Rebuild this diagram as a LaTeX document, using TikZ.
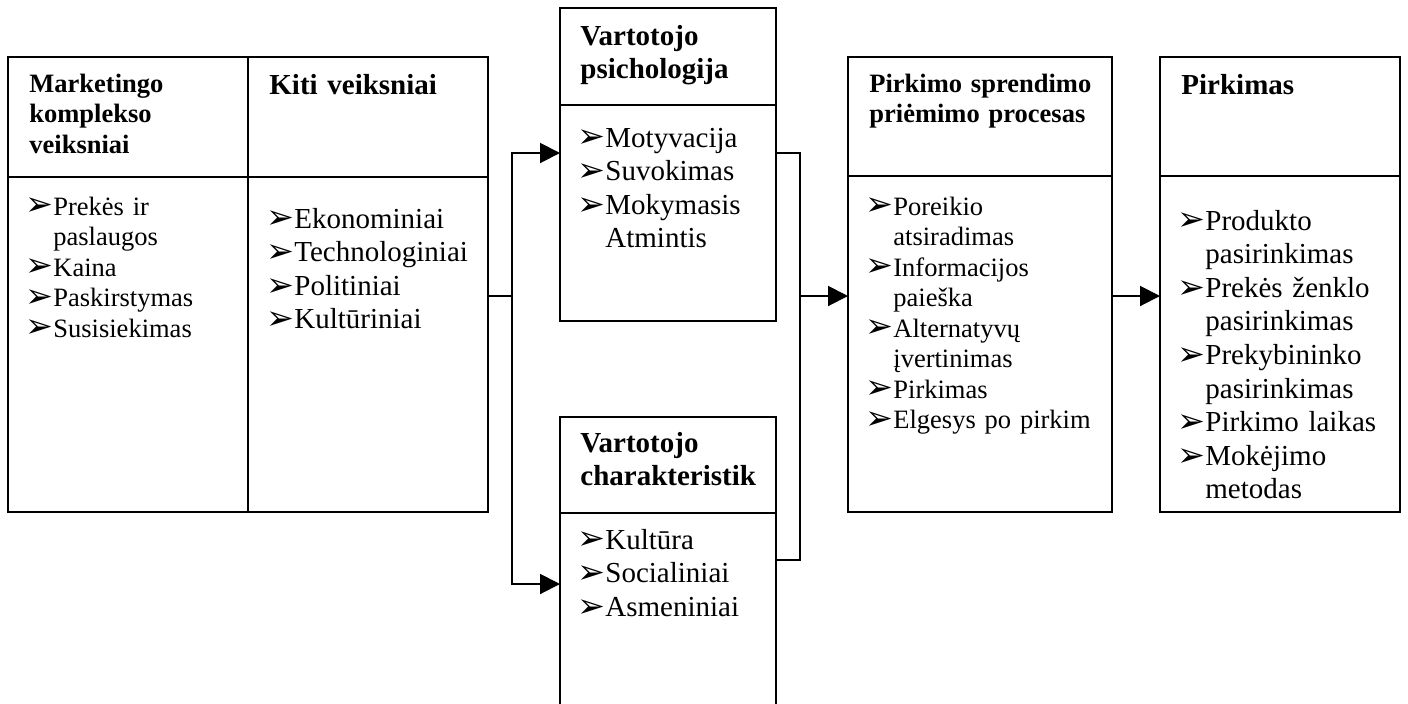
\documentclass[tikz,border=0pt]{standalone}
\usepackage{fontspec}
\setmainfont{Liberation Serif}
\newfontfamily\symfont{DejaVu Sans}
\usepackage{graphicx}
\usetikzlibrary{arrows.meta,positioning}

\newcommand{\bul}{\resizebox{14pt}{!}{\symfont ➢}}
\newcommand{\itm}{\makebox[11.5pt][l]{\kern-2.6pt\smash{\raisebox{-0.4pt}{\bul}}}}
\newcommand{\indt}{\hspace*{11.5pt}}

\begin{document}
\begin{tikzpicture}[
  x=0.5pt, y=-0.5pt,
  cell/.style={draw=black, line width=1pt, anchor=north west,
              inner sep=0pt, outer sep=0pt},
  hsmall/.style={anchor=base west, inner sep=0pt, text width=160pt, align=left,
              font=\fontsize{13.25}{15.25}\selectfont\bfseries},
  hlarge/.style={anchor=base west, inner sep=0pt, text width=160pt, align=left,
              font=\fontsize{14.5}{16.8}\selectfont\bfseries},
  bsmall/.style={anchor=base west, inner sep=0pt, text width=160pt, align=left,
              font=\fontsize{13.25}{15.25}\selectfont},
  blarge/.style={anchor=base west, inner sep=0pt, text width=160pt, align=left,
              font=\fontsize{14.5}{16.8}\selectfont},
  conn/.style={line width=1pt},
  arr/.style={-{Triangle[length=10pt,width=10pt]}, line width=1pt}
]
\clip (0,0) rectangle (1408,703);

%% factor boxes
\node[cell, minimum width=120pt, minimum height=60pt] (mkh) at (8,57) {};
\node[cell, minimum width=120pt, minimum height=167.5pt, below=0pt of mkh] (mkb) {};
\node[cell, minimum width=120pt, minimum height=60pt, right=0pt of mkh] (kitih) {};
\node[cell, minimum width=120pt, minimum height=167.5pt, below=0pt of kitih] (kitib) {};

%% consumer boxes
\node[cell, minimum width=108pt, minimum height=48.5pt] (psyh) at (560,8) {};
\node[cell, minimum width=108pt, minimum height=108pt, below=0pt of psyh] (psyb) {};
\node[cell, minimum width=108pt, minimum height=48pt] (charh) at (560,417) {};
\node[cell, minimum width=108pt, minimum height=115pt, below=0pt of charh] (charb) {};

%% decision and purchase boxes
\node[cell, minimum width=132pt, minimum height=59.5pt] (sprh) at (848,57) {};
\node[cell, minimum width=132pt, minimum height=168pt, below=0pt of sprh] (sprb) {};
\node[cell, minimum width=120pt, minimum height=59.5pt] (pirh) at (1160,57) {};
\node[cell, minimum width=120pt, minimum height=168pt, below=0pt of pirh] (pirb) {};

%% headers
\node[hsmall] (mkt) at (29,92) {Marketingo\\komplekso\\veiksniai};
\node[hlarge] (kitit) at (269,94) {Kiti veiksniai};
\node[hlarge] (psyt) at (580,45) {Vartotojo\\psichologija};
\begin{scope}
  \clip (560,417) rectangle (756,513);
  \node[hlarge] (chart) at (580,452) {Vartotojo\\charakteristika};
\end{scope}
\node[hsmall] (sprt) at (869,92) {Pirkimo sprendimo\\priėmimo procesas};
\node[hlarge] (pirt) at (1181,94) {Pirkimas};

%% lists
\node[bsmall] (mkl) at (30,215) {\itm Prekės ir\\\indt paslaugos\\\itm Kaina\\
  \itm Paskirstymas\\\itm Susisiekimas};
\node[blarge] (kitil) at (271,228) {\itm Ekonominiai\\\itm Technologiniai\\
  \itm Politiniai\\\itm Kultūriniai};
\node[blarge] (psyl) at (582,147) {\itm Motyvacija\\\itm Suvokimas\\
  \itm Mokymasis\\\indt Atmintis};
\node[blarge] (charl) at (582,549) {\itm Kultūra\\\itm Socialiniai\\\itm Asmeniniai};
\begin{scope}
  \clip (848,176) rectangle (1089,512);
  \node[bsmall] (sprl) at (870,215) {\itm Poreikio\\\indt atsiradimas\\
    \itm Informacijos\\\indt paieška\\\itm Alternatyvų\\\indt įvertinimas\\
    \itm Pirkimas\\\itm Elgesys po pirkimo};
\end{scope}
\node[blarge] (pirl) at (1182,230) {\itm Produkto\\\indt pasirinkimas\\
  \itm Prekės ženklo\\\indt pasirinkimas\\\itm Prekybininko\\\indt pasirinkimas\\
  \itm Pirkimo laikas\\\itm Mokėjimo\\\indt metodas};

%% connectors
\coordinate (hubL) at (512,296);
\coordinate (hubR) at (800,296);
\draw[conn] (kitib.east |- hubL) -- (hubL);
\draw[arr] (hubL) |- ([yshift=30pt]psyb.west);
\draw[arr] (hubL) |- ([yshift=22pt]charb.west);
\draw[conn] ([yshift=30pt]psyb.east) -| (hubR);
\draw[conn] ([yshift=34pt]charb.east) -| (hubR);
\draw[arr] (hubR) -- (sprb.west |- hubR);
\draw[arr] (sprb.east |- hubR) -- (pirb.west |- hubR);

\end{tikzpicture}
\end{document}
